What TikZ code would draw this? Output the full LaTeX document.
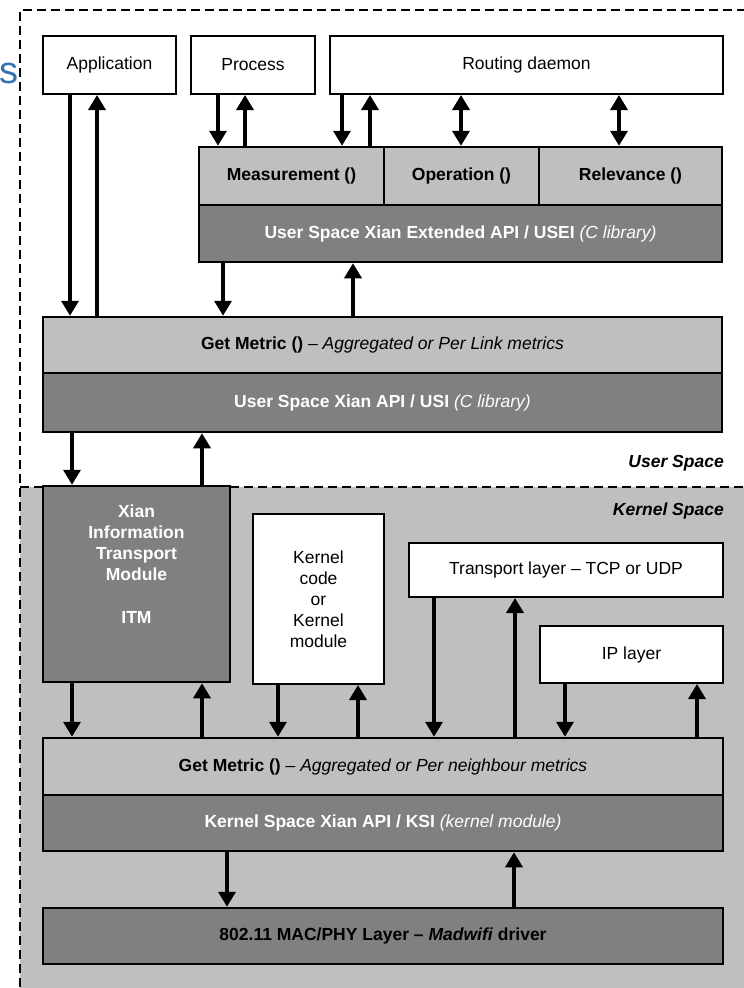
\documentclass[tikz,border=0pt]{standalone}
\usepackage{fontspec}
\setmainfont{Liberation Sans}
\usetikzlibrary{arrows.meta}

\definecolor{lgray}{gray}{0.75}
\definecolor{dgray}{gray}{0.5}
\definecolor{slideblue}{RGB}{50,115,180}

\begin{document}
\begin{tikzpicture}[x=1pt, y=-1pt,
    font=\fontsize{17.5}{21}\selectfont,
    every node/.style={inner sep=0pt},
    wbox/.style={draw, line width=2pt, fill=white, minimum height=58pt},
    lbox/.style={draw, line width=2.5pt, fill=lgray},
    dbox/.style={draw, line width=2.5pt, fill=dgray, text=white},
    arr/.style={line width=3.5pt, -{Triangle[width=17pt,length=15pt]}},
    barr/.style={line width=3.5pt, {Triangle[width=17pt,length=15pt]}-{Triangle[width=17pt,length=15pt]}},
    spaceframe/.style={line width=1.5pt, dash pattern=on 9pt off 5pt}]
    \useasboundingbox (0,0) rectangle (744,988);
    \clip (0,0) rectangle (744,988);

    % User Space / Kernel Space
    \fill[lgray] (20,487) rectangle (760,1000);
    \draw[spaceframe] (760,10) -- (20,10) -- (20,1000);
    \draw[spaceframe] (20,487) -- (760,487);
    \node[anchor=base east, text=slideblue, font=\fontsize{38}{42}\selectfont] (cut) at (19,83) {s};

    % Aplikace
    \node[wbox, minimum width=133pt] (app) at (109.5,65) {Application};
    \node[wbox, minimum width=124pt] (proc) at (253,65) {Process};
    \node[wbox, minimum width=393pt] (rout) at (526.5,65) {Routing daemon};

    % USEI
    \node[lbox, minimum width=185pt, minimum height=58pt] (meas) at (291.5,176) {\textbf{Measurement ()}};
    \node[lbox, minimum width=155pt, minimum height=58pt] (oper) at (461.5,176) {\textbf{Operation ()}};
    \node[lbox, minimum width=183pt, minimum height=58pt] (relev) at (630.5,176) {\textbf{Relevance ()}};
    \node[dbox, minimum width=523pt, minimum height=57pt] (usei) at (460.5,233.5)
        {\textbf{User Space Xian Extended API / USEI} \textit{(C library)}};

    % USI
    \node[lbox, minimum width=679pt, minimum height=56pt] (getu) at (382.5,345)
        {\textbf{Get Metric ()} \textit{– Aggregated or Per Link metrics}};
    \node[dbox, minimum width=679pt, minimum height=59pt] (usi) at (382.5,402.5)
        {\textbf{User Space Xian API / USI} \textit{(C library)}};

    \node[anchor=east] (ulab) at (724,463) {\bfseries\itshape User Space};
    \node[anchor=east] (klab) at (724,511) {\bfseries\itshape Kernel Space};

    % Jadro
    \node[dbox, minimum width=187pt, minimum height=196pt] (itm) at (136.5,584) {};
    \node[anchor=north, align=center, text=white, font=\fontsize{17.5}{21}\selectfont\bfseries] (itmtext)
        at (136.5,505) {Xian\\Information\\Transport\\Module\\[22pt]ITM};
    \node[wbox, minimum width=131pt, minimum height=170pt, align=center] (kcode) at (318.5,599)
        {Kernel\\code\\or\\Kernel\\module};
    \node[wbox, minimum width=314pt, minimum height=54pt] (trans) at (566,570) {Transport layer – TCP or UDP};
    \node[wbox, minimum width=183pt, minimum height=57pt] (ip) at (631.5,654.5) {IP layer};

    % KSI
    \node[lbox, minimum width=680pt, minimum height=57pt] (getk) at (383,766.5)
        {\textbf{Get Metric ()} \textit{– Aggregated or Per neighbour metrics}};
    \node[dbox, minimum width=680pt, minimum height=56pt] (ksi) at (383,823)
        {\textbf{Kernel Space Xian API / KSI} \textit{(kernel module)}};
    \node[dbox, text=black, minimum width=680pt, minimum height=56pt] (mac) at (383,936)
        {\bfseries 802.11 MAC/PHY Layer – \textit{Madwifi} driver};

    % Sipky dolu
    \foreach \x/\a/\b in {70/app/getu, 218/proc/meas, 342/rout/meas, 223/usei/getu, 72/usi/itm,
                          72/itm/getk, 278/kcode/getk, 434/trans/getk, 565/ip/getk, 227/ksi/mac}
        \draw[arr] (\a.south -| \x,0) -- (\b.north -| \x,0);
    % Sipky nahoru
    \foreach \x/\a/\b in {97/getu/app, 245/meas/proc, 370/meas/rout, 353/getu/usei, 202/itm/usi,
                          202/getk/itm, 358/getk/kcode, 515/getk/trans, 697/getk/ip, 514/mac/ksi}
        \draw[arr] (\a.north -| \x,0) -- (\b.south -| \x,0);
    % Obousmerne
    \foreach \x/\a in {461/oper, 619/relev}
        \draw[barr] (rout.south -| \x,0) -- (\a.north -| \x,0);
\end{tikzpicture}
\end{document}
